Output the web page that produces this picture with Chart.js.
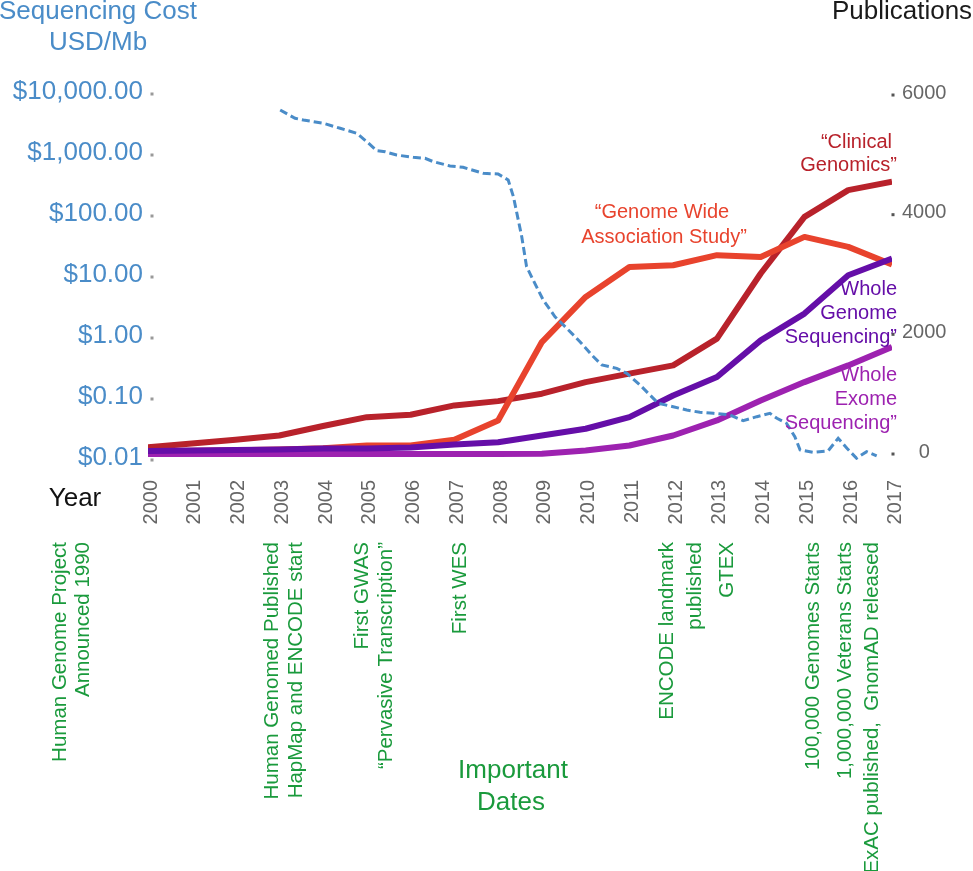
<!DOCTYPE html>
<html>
<head>
<meta charset="utf-8">
<script src="https://cdn.jsdelivr.net/npm/chart.js@4.4.1/dist/chart.umd.min.js"></script>
<style>
  html, body { margin: 0; padding: 0; background: #ffffff; }
  canvas { display: block; }
</style>
</head>
<body>
<canvas id="c" width="973" height="871"></canvas>
<script>
// ---------------- DATA ----------------
const years = [2000, 2001, 2002, 2003, 2004, 2005, 2006, 2007, 2008, 2009, 2010, 2011, 2012, 2013, 2014, 2015, 2016, 2017];

const clinicalGenomics = [114, 176, 238, 310, 469, 616, 656, 812, 884, 1008, 1202, 1343, 1481, 1928, 3017, 3964, 4411, 4550];
const gwas             = [50, 55, 65, 75, 95, 142, 142, 238, 561, 1871, 2625, 3127, 3155, 3323, 3294, 3629, 3462, 3167];
const wholeGenome      = [50, 59, 67, 75, 92, 92, 109, 159, 198, 310, 422, 616, 979, 1286, 1900, 2347, 2988, 3268];
const wholeExome       = [0, 0, 0, 0, 0, 0, 0, 0, 0, 5, 59, 142, 310, 561, 896, 1202, 1481, 1788];

const costYears  = [2003.02, 2003.36, 2003.55, 2004.01, 2004.39, 2004.77, 2005.0, 2005.23, 2005.42, 2005.68,
                    2006.06, 2006.33, 2006.52, 2006.9, 2007.2, 2007.66, 2008.0, 2008.23, 2008.35, 2008.54,
                    2008.65, 2008.8, 2009.03, 2009.3, 2009.57, 2009.87, 2010.14, 2010.37, 2010.71, 2010.94,
                    2011.24, 2011.47, 2011.66, 2012.0, 2012.31, 2012.61, 2012.92, 2013.3, 2013.6, 2013.91,
                    2014.21, 2014.37, 2014.59, 2014.78, 2014.9, 2015.2, 2015.54, 2015.77, 2015.97, 2016.19,
                    2016.42, 2016.65];
const costValues = [5470, 4000, 3750, 3310, 2740, 2270, 1650, 1175, 1130, 1000,
                    917, 883, 777, 661, 628, 501, 488, 389, 207, 45.8,
                    14.8, 8.93, 4.2, 2.23, 1.44, 0.87, 0.526, 0.361, 0.318, 0.264,
                    0.17, 0.116, 0.085, 0.0748, 0.066, 0.0606, 0.0583, 0.0547, 0.0441, 0.0513,
                    0.0583, 0.0483, 0.040, 0.0241, 0.0146, 0.0134, 0.0141, 0.0227, 0.0156, 0.0107,
                    0.0137, 0.0117];

const costTicks = [0.01, 0.1, 1, 10, 100, 1000, 10000];
const pubTicks  = [0, 2000, 4000, 6000];

const eventLabels = [
  "Human Genome Project", "Announced 1990",
  "Human Genomed Published", "HapMap and ENCODE start",
  "First GWAS", "\u201CPervasive Transcription\u201D",
  "First WES",
  "ENCODE landmark", "published",
  "GTEX",
  "100,000 Genomes Starts",
  "1,000,000 Veterans Starts",
  "ExAC published,  GnomAD released"
];

// ---------------- STYLE ----------------
const FONT = "'Liberation Sans', Arial, Helvetica, sans-serif";
const C_COST = '#4a8cc8';
const C_CLIN = '#b8222b';
const C_GWAS = '#e8432d';
const C_WGS  = '#650ea8';
const C_WES  = '#9d22b0';
const C_GREEN = '#1a9a3c';
const C_GRAY = '#666666';

const pts = (xs, ys) => xs.map((x, i) => ({ x: x, y: ys[i] }));

const textPlugin = {
  id: 'texts',
  afterDraw(chart) {
    const ctx = chart.ctx;
    const yL = chart.scales.y, yR = chart.scales.y1;
    ctx.save();
    // tick dots
    ctx.fillStyle = '#999999';
    yL.ticks.forEach(t => {
      const py = yL.getPixelForValue(t.value);
      ctx.fillRect(150.5, py - 1.5, 3, 3);
    });
    ctx.fillStyle = '#555555';
    yR.ticks.forEach(t => {
      const py = yR.getPixelForValue(t.value);
      ctx.fillRect(891.5, py - 1.5, 3, 3);
    });

    function txt(s, x, y, color, size, align) {
      ctx.font = size + 'px ' + FONT;
      ctx.fillStyle = color;
      ctx.textAlign = align || 'center';
      ctx.textBaseline = 'middle';
      ctx.fillText(s, x, y);
    }
    // axis titles
    txt('Sequencing Cost', 98, 12, C_COST, 26);
    txt('USD/Mb', 98, 43, C_COST, 26);
    txt('Publications', 902, 12, '#1a1a1a', 26);
    txt('Year', 75, 499, '#111111', 26);
    txt('Important', 513, 771, C_GREEN, 26);
    txt('Dates', 511, 803, C_GREEN, 26);

    // series labels
    txt('\u201CClinical', 892, 142, C_CLIN, 20, 'right');
    txt('Genomics\u201D', 897, 165, C_CLIN, 20, 'right');
    txt('\u201CGenome Wide', 662, 212, C_GWAS, 20, 'center');
    txt('Association Study\u201D', 664, 237, C_GWAS, 20, 'center');
    txt('Whole', 897, 289, C_WGS, 20, 'right');
    txt('Genome', 897, 313, C_WGS, 20, 'right');
    txt('Sequencing\u201D', 897, 337, C_WGS, 20, 'right');
    txt('Whole', 897, 375, C_WES, 20, 'right');
    txt('Exome', 897, 399, C_WES, 20, 'right');
    txt('Sequencing\u201D', 897, 423, C_WES, 20, 'right');

    // rotated event labels
    const xs = [60, 83, 272, 296, 362, 386, 460, 667, 695, 727, 813, 845, 872];
    ctx.font = '20.5px ' + FONT;
    ctx.fillStyle = C_GREEN;
    ctx.textAlign = 'right';
    ctx.textBaseline = 'middle';
    eventLabels.forEach((s, i) => {
      ctx.save();
      ctx.translate(xs[i], 542);
      ctx.rotate(-Math.PI / 2);
      ctx.fillText(s, 0, 0);
      ctx.restore();
    });
    ctx.restore();
  }
};

const lineDs = (label, data, color, axis) => ({
  label: label,
  data: pts(years, data),
  borderColor: color,
  backgroundColor: color,
  borderWidth: 6,
  pointRadius: 0,
  tension: 0,
  borderJoinStyle: 'round',
  borderCapStyle: 'butt',
  yAxisID: axis,
  fill: false
});

new Chart(document.getElementById('c'), {
  type: 'line',
  data: {
    datasets: [
      {
        label: 'Sequencing Cost (USD/Mb)',
        data: pts(costYears, costValues),
        borderColor: C_COST,
        borderWidth: 3,
        borderDash: [8, 4],
        pointRadius: 0,
        tension: 0,
        yAxisID: 'y',
        fill: false
      },
      lineDs('Whole Genome Sequencing', wholeGenome, C_WGS, 'y1'),
      lineDs('Whole Exome Sequencing', wholeExome, C_WES, 'y1'),
      lineDs('Genome Wide Association Study', gwas, C_GWAS, 'y1'),
      lineDs('Clinical Genomics', clinicalGenomics, C_CLIN, 'y1')
    ]
  },
  options: {
    responsive: false,
    animation: false,
    devicePixelRatio: 1,
    layout: { padding: { top: 94, left: 0, right: 0, bottom: 0 } },
    plugins: { legend: { display: false }, tooltip: { enabled: false }, title: { display: false } },
    scales: {
      x: {
        type: 'linear',
        min: 2000, max: 2017,
        afterFit: s => { s.height = 411; },
        afterBuildTicks: s => { s.ticks = years.map(v => ({ value: v })); },
        grid: { display: false, drawTicks: false },
        border: { display: false },
        ticks: {
          autoSkip: false,
          minRotation: 90, maxRotation: 90,
          padding: 20,
          labelOffset: 3,
          color: C_GRAY,
          font: { family: FONT, size: 20 },
          callback: v => String(v)
        }
      },
      y: {
        type: 'logarithmic',
        position: 'left',
        min: 0.01, max: 10000,
        afterFit: s => { s.width = 148; },
        afterBuildTicks: s => { s.ticks = costTicks.map(v => ({ value: v })); },
        grid: { display: false, drawTicks: false },
        border: { display: false },
        ticks: {
          padding: 5,
          labelOffset: -2,
          color: C_COST,
          font: { family: FONT, size: 26 },
          callback: v => '$' + Number(v).toLocaleString('en-US', { minimumFractionDigits: 2, maximumFractionDigits: 2 })
        }
      },
      y1: {
        type: 'linear',
        position: 'right',
        min: -100, max: 6017,
        afterFit: s => { s.width = 81; },
        afterBuildTicks: s => { s.ticks = pubTicks.map(v => ({ value: v })); },
        grid: { display: false, drawTicks: false },
        border: { display: false },
        ticks: {
          padding: 10,
          labelOffset: -2,
          crossAlign: 'center',
          color: C_GRAY,
          font: { family: FONT, size: 20 },
          callback: v => String(v)
        }
      }
    }
  },
  plugins: [textPlugin]
});
</script>
</body>
</html>
